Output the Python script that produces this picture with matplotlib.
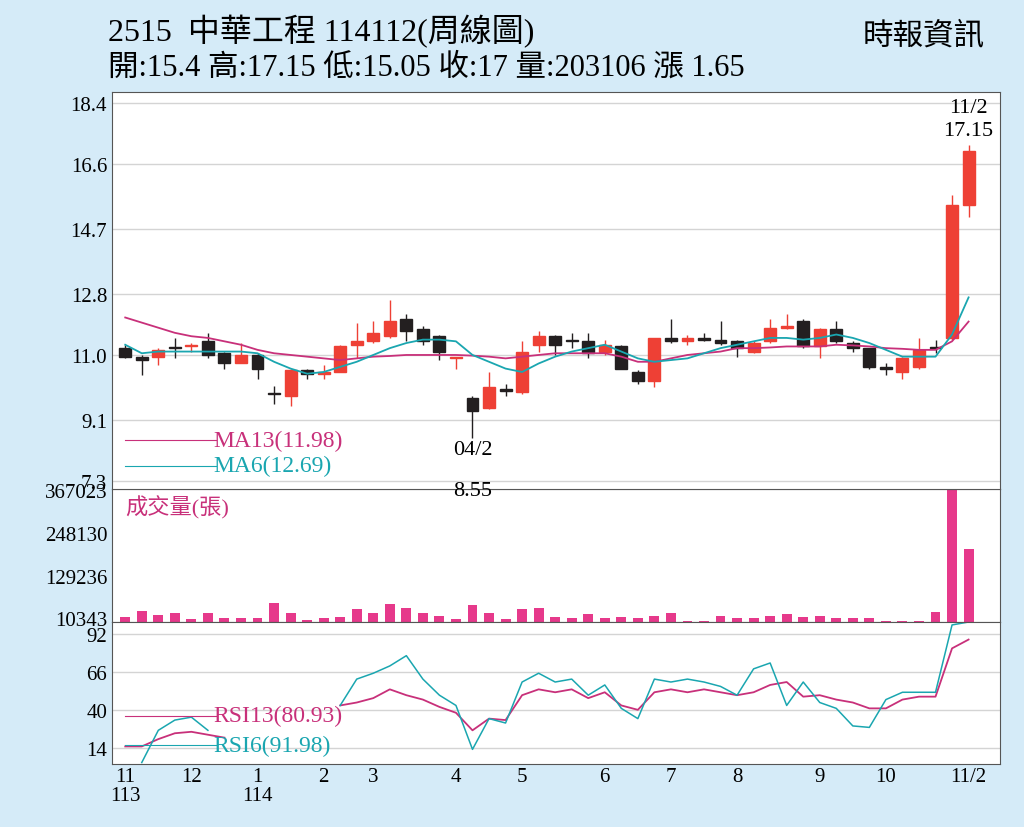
import numpy as np
import matplotlib
matplotlib.use("Agg")
import matplotlib.pyplot as plt

FAM = ["Liberation Serif", "Noto Sans CJK TC"]
plt.rcParams["font.family"] = FAM

opens = [11.2, 10.95, 10.95, 11.2, 11.25, 11.4, 11.05, 10.75, 11.0, 9.85, 9.8, 10.55, 10.45,
         10.5, 11.3, 11.4, 11.55, 12.05, 11.75, 11.55, 10.9, 9.75, 9.45, 10.0, 9.9, 11.3,
         11.55, 11.4, 11.4, 11.1, 11.25, 10.5, 10.25, 11.5, 11.4, 11.5, 11.45, 11.4, 11.1,
         11.4, 11.8, 12.0, 11.25, 11.75, 11.35, 11.2, 10.6, 10.5, 10.65, 11.2, 11.5, 15.4]
highs = [11.3, 11.0, 11.2, 11.5, 11.35, 11.65, 11.1, 11.35, 11.05, 10.1, 10.6, 10.6, 10.7,
         11.3, 11.95, 12.0, 12.6, 12.2, 11.85, 11.6, 10.95, 9.8, 10.5, 10.15, 11.4, 11.7,
         11.6, 11.65, 11.65, 11.45, 11.3, 10.55, 11.5, 12.05, 11.6, 11.65, 12.0, 11.45, 11.4,
         12.05, 12.2, 12.05, 11.8, 12.0, 11.4, 11.2, 10.75, 10.95, 11.5, 11.45, 15.7, 17.15]
lows = [10.9, 10.4, 10.7, 10.9, 11.1, 10.9, 10.6, 10.75, 10.3, 9.55, 9.5, 10.3, 10.3,
        10.5, 10.9, 11.35, 11.5, 11.4, 11.3, 10.85, 10.6, 8.55, 9.4, 9.8, 9.85, 11.1,
        11.0, 11.2, 10.9, 11.0, 10.6, 10.15, 10.05, 11.35, 11.3, 11.4, 11.3, 10.95, 11.05,
        11.35, 11.75, 11.2, 10.9, 11.35, 11.1, 10.6, 10.4, 10.3, 10.6, 11.05, 11.45, 15.05]
closes = [10.95, 10.85, 11.15, 11.2, 11.3, 11.0, 10.75, 11.0, 10.6, 9.85, 10.55, 10.45, 10.5,
          11.25, 11.4, 11.65, 12.0, 11.7, 11.4, 11.1, 10.95, 9.35, 10.05, 9.95, 11.1, 11.55,
          11.3, 11.4, 11.05, 11.3, 10.6, 10.25, 11.5, 11.4, 11.5, 11.45, 11.35, 11.2, 11.35,
          11.8, 11.85, 11.25, 11.75, 11.4, 11.2, 10.65, 10.6, 10.9, 11.15, 11.2, 15.4, 17.0]
ma13 = [12.1, 11.95, 11.8, 11.65, 11.55, 11.5, 11.4, 11.3, 11.15, 11.05, 11.0, 10.95, 10.9,
        10.85, 10.9, 10.95, 10.97, 11.0, 11.0, 11.0, 11.0, 10.98, 10.95, 10.9, 10.95, 11.0,
        11.05, 11.05, 11.05, 11.05, 10.95, 10.8, 10.8, 10.9, 11.0, 11.05, 11.1, 11.2, 11.2,
        11.22, 11.25, 11.25, 11.25, 11.3, 11.28, 11.25, 11.2, 11.18, 11.15, 11.15, 11.4, 11.98]
ma6 = [11.3, 11.05, 11.1, 11.1, 11.1, 11.1, 11.1, 11.1, 11.05, 10.8, 10.6, 10.45, 10.5,
       10.65, 10.8, 11.0, 11.2, 11.35, 11.45, 11.45, 11.4, 11.0, 10.8, 10.6, 10.5, 10.75,
       10.95, 11.1, 11.2, 11.3, 11.1, 10.9, 10.8, 10.85, 10.9, 11.05, 11.2, 11.3, 11.4,
       11.5, 11.5, 11.45, 11.5, 11.6, 11.5, 11.35, 11.15, 10.95, 10.95, 10.95, 11.6, 12.69]
volume = [15000, 30000, 20000, 25000, 8000, 25000, 12000, 12000, 12000, 52000, 25000, 5000, 12000,
          15000, 35000, 25000, 50000, 40000, 25000, 18000, 8000, 48000, 25000, 8000, 35000, 40000,
          15000, 12000, 22000, 10000, 15000, 12000, 18000, 25000, 3000, 3000, 18000, 12000, 10000,
          18000, 22000, 15000, 18000, 12000, 12000, 12000, 3000, 3000, 3000, 28000, 420000, 203106]
nan = np.nan
rsi13 = [15, 15, 20, 24, 25, 23, 21, nan, nan, nan, nan, nan, nan,
         43, 45, 48, 54, 50, 47, 42, 38, 26, 34, 33, 50, 54,
         52, 54, 48, 52, 43, 40, 52, 54, 52, 54, 52, 50, 52,
         57, 59, 49, 50, 47, 45, 41, 41, 47, 49, 49, 82, 88]
rsi6 = [nan, 4, 26, 33, 35, 26, nan, nan, nan, nan, nan, nan, nan,
        43, 61, 65, 70, 77, 61, 50, 43, 13, 34, 31, 59, 65,
        59, 61, 50, 57, 41, 34, 61, 59, 61, 59, 56, 50, 68,
        72, 43, 59, 45, 41, 29, 28, 47, 52, 52, 52, 98, 100]
month_pos = [0, 4, 8, 12, 15, 20, 24, 29, 33, 37, 42, 46, 51]
month_lbl = ["11\n113", "12", "1\n114", "2", "3", "4", "5", "6", "7", "8", "9", "10", "11/2"]

RED, BLK, PINK, CYAN = "#ee4035", "#231f20", "#c8307a", "#1aa6b0"
x = np.arange(len(closes))

fig = plt.figure(figsize=(10.24, 8.28), dpi=100)
fig.patch.set_facecolor("#d5ebf8")
L, W = 112 / 1024, 888 / 1024
ax = fig.add_axes([L, 1 - 490 / 828, W, 397 / 828])
axv = fig.add_axes([L, 1 - 623 / 828, W, 133 / 828], sharex=ax)
axr = fig.add_axes([L, 1 - 765 / 828, W, 142 / 828], sharex=ax)
ax.set_zorder(3)
for a in (ax, axv, axr):
    a.set_facecolor("white")
    for s in a.spines.values():
        s.set_color("#555555")
    a.tick_params(length=0, labelsize=15)
    a.grid(axis="y", color="#d4d4d4", lw=1)
    a.set_axisbelow(True)

# candles
for i in x:
    o, h, l, c = opens[i], highs[i], lows[i], closes[i]
    col = RED if c > o else BLK
    ax.vlines(i, l, h, color=col, lw=1)
    body = max(abs(c - o), 0.04)
    ax.add_patch(plt.Rectangle((i - 0.36, min(o, c)), 0.72, body, color=col, zorder=3))
ax.plot(x, ma13, color=PINK, lw=1.3, zorder=4)
ax.plot(x, ma6, color=CYAN, lw=1.3, zorder=4)
ax.set_ylim(7.065, 18.72)
ax.set_yticks([7.3, 9.1, 11.0, 12.8, 14.7, 16.6, 18.4])
ax.set_yticklabels(["7.3", "9.1", "11.0", "12.8", "14.7", "16.6", "18.4"])
ax.set_xlim(-0.8, 52.9)
ax.tick_params(labelbottom=False)
ax.plot([0, 5.5], [8.5, 8.5], color=PINK, lw=0.8)
ax.plot([0, 5.5], [7.75, 7.75], color=CYAN, lw=0.8)
ax.text(5.3, 8.5, "MA13(11.98)", color=PINK, fontsize=17, va="center")
ax.text(5.3, 7.75, "MA6(12.69)", color=CYAN, fontsize=17, va="center")
ax.text(21, 7.95, "04/2", fontsize=16, ha="center", va="bottom")
ax.text(21, 7.3, "8.55", fontsize=16, ha="center", va="top", clip_on=False)
ax.text(51, 18.0, "11/2", fontsize=16, ha="center", va="bottom")
ax.text(51, 17.3, "17.15", fontsize=16, ha="center", va="bottom")

# volume
axv.bar(x, volume, width=0.6, color="#e6398b")
axv.set_ylim(0, 370000)
axv.set_yticks([10343, 129236, 248130, 367023])
axv.set_yticklabels(["10343", "129236", "248130", "367023"])
axv.tick_params(labelbottom=False)
axv.grid(False)
axv.text(0.015, 0.87, "成交量(張)", transform=axv.transAxes,
         color=PINK, fontsize=16, va="center")

# rsi
axr.plot(x, rsi13, color=PINK, lw=1.3)
axr.plot(x, rsi6, color=CYAN, lw=1.1)
axr.set_ylim(3, 100)
axr.set_yticks([14, 40, 66, 92])
axr.set_xticks(month_pos)
axr.set_xticklabels(month_lbl, fontsize=15, va="top", linespacing=1.0)
axr.tick_params(axis="x", pad=2)
axr.plot([0, 5.5], [36, 36], color=PINK, lw=0.8)
axr.plot([0, 5.5], [16, 16], color=CYAN, lw=0.8)
axr.text(5.3, 36, "RSI13(80.93)", color=PINK, fontsize=17, va="center")
axr.text(5.3, 16, "RSI6(91.98)", color=CYAN, fontsize=17, va="center")

fig.text(108 / 1024, 1 - 32 / 828, "2515  中華工程 114112(周線圖)", fontsize=23, va="center")
fig.text(108 / 1024, 1 - 68 / 828, "開:15.4 高:17.15 低:15.05 收:17 量:203106 漲 1.65",
         fontsize=22, va="center")
fig.text(985 / 1024, 1 - 38 / 828, "時報資訊", fontsize=22, va="center", ha="right")
fig.savefig("out.png", facecolor=fig.get_facecolor())
